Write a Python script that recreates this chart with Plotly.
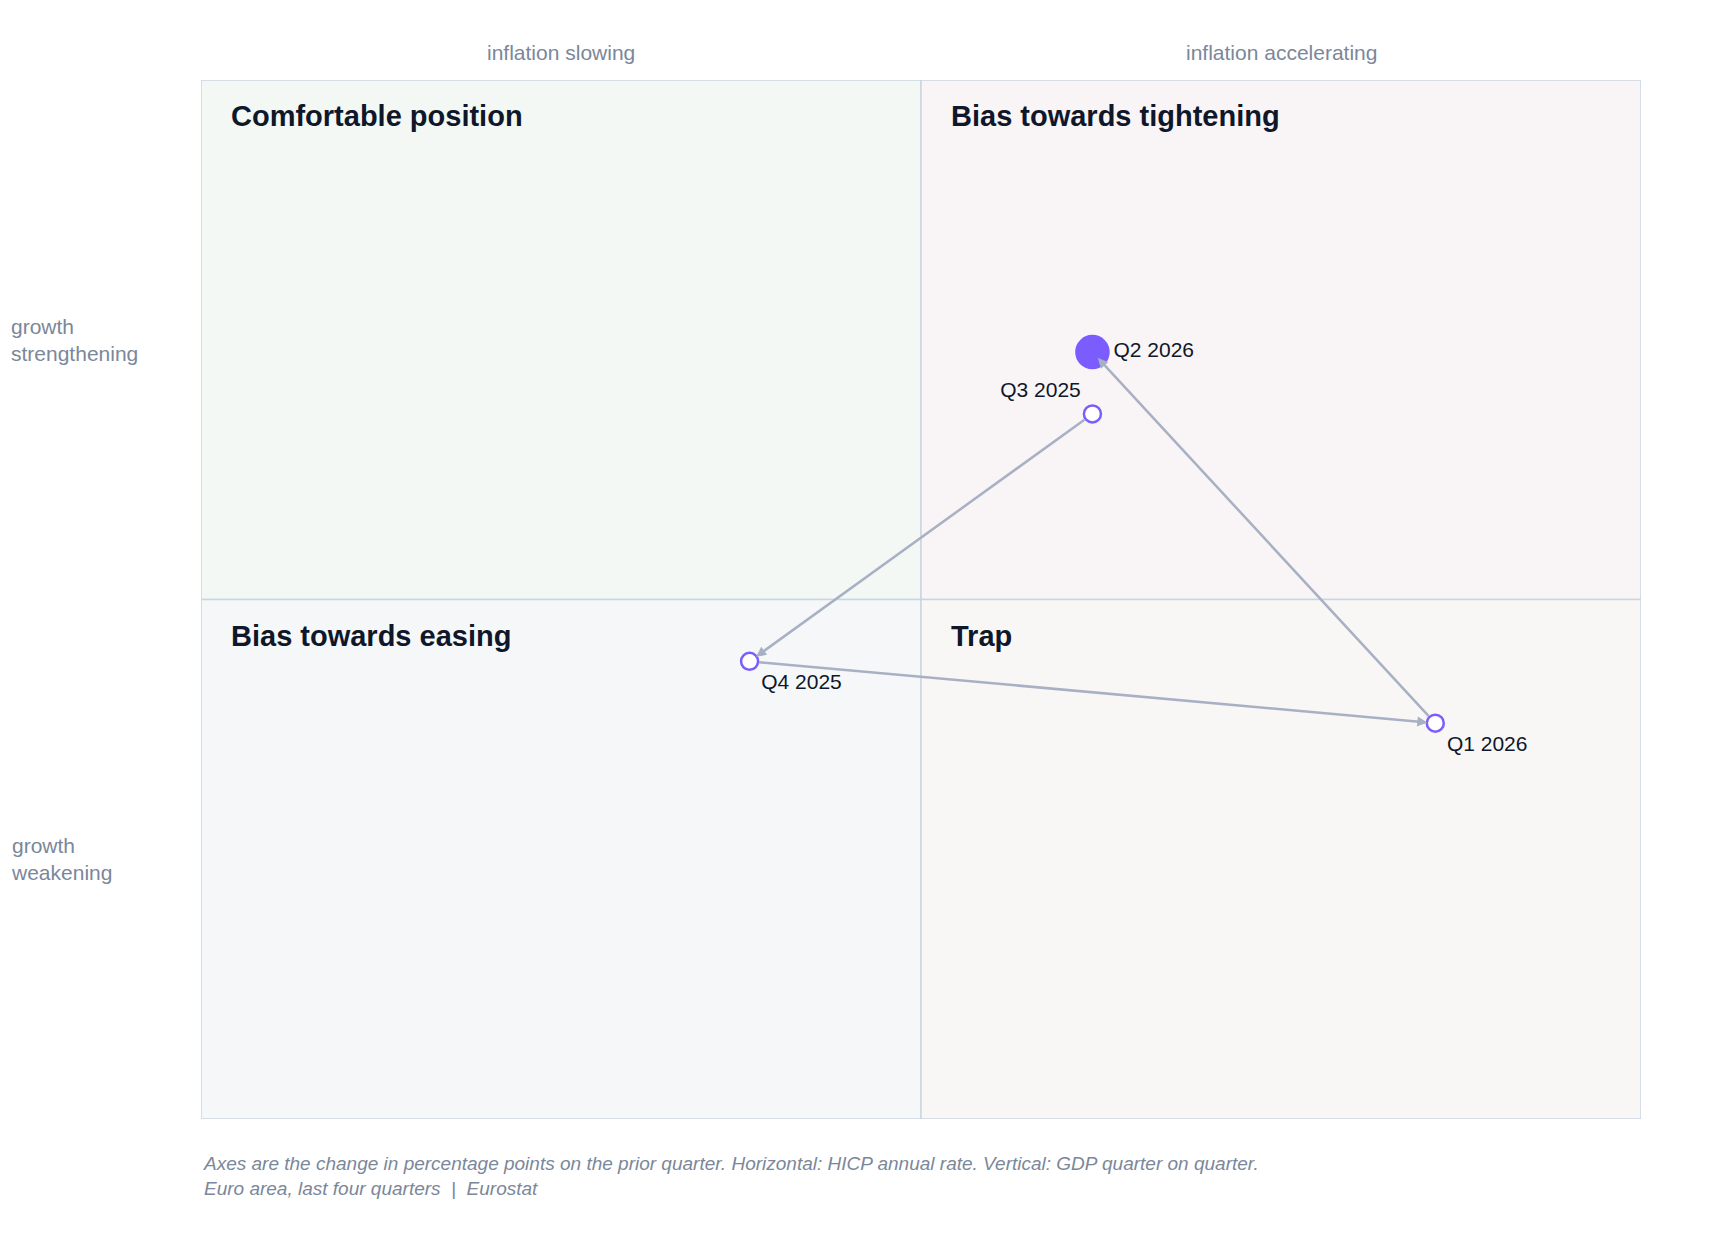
import plotly.graph_objects as go

quarters = ["Q3 2025", "Q4 2025", "Q1 2026", "Q2 2026"]
inflation_change = [0.1, -0.1, 0.3, 0.1]
growth_change = [0.15, -0.05, -0.1, 0.2]
label_pos = ["top left", "bottom right", "bottom right", "middle right"]

quadrants = [
    ("Comfortable position", -0.42, 0, 0, 0.42, "#f3f8f4"),
    ("Bias towards tightening", 0, 0, 0.42, 0.42, "#f9f4f6"),
    ("Bias towards easing", -0.42, -0.42, 0, 0, "#f6f7f9"),
    ("Trap", 0, -0.42, 0.42, 0, "#f8f7f6"),
]

R = 0.42
fig = go.Figure()

for name, x0, y0, x1, y1, col in quadrants:
    fig.add_shape(type="rect", x0=x0, y0=y0, x1=x1, y1=y1, fillcolor=col,
                  line=dict(color="#cbd5e1", width=1.5), layer="below")
    fig.add_annotation(x=x0, y=y1, text="<b>" + name + "</b>", showarrow=False,
                       xanchor="left", yanchor="top", xshift=28, yshift=-18,
                       font=dict(size=29, color="#0f172a"))

for i in range(len(quarters) - 1):
    fig.add_annotation(x=inflation_change[i + 1], y=growth_change[i + 1],
                       ax=inflation_change[i], ay=growth_change[i],
                       xref="x", yref="y", axref="x", ayref="y",
                       showarrow=True, arrowhead=2, arrowsize=0.8, arrowwidth=2.5,
                       arrowcolor="#a8b0c4", standoff=8, startstandoff=8, text="")

sizes = [17, 17, 17, 32]
fills = ["white", "white", "white", "#7b5cff"]
fig.add_trace(go.Scatter(
    x=inflation_change, y=growth_change, mode="markers+text",
    text=quarters, textposition=label_pos,
    textfont=dict(size=21, color="#0f172a"),
    marker=dict(size=sizes, color=fills, opacity=1, line=dict(color="#7b5cff", width=2.5)),
    hoverinfo="text", showlegend=False,
))

top_labels = [("inflation slowing", -R / 2), ("inflation accelerating", R / 2)]
for t, xv in top_labels:
    fig.add_annotation(x=xv, y=1, yref="paper", text=t, showarrow=False,
                       yanchor="bottom", yshift=14, font=dict(size=21, color="#7b879a"))
side_labels = [("growth<br>strengthening", R / 2), ("growth<br>weakening", -R / 2)]
for t, yv in side_labels:
    fig.add_annotation(x=0, xref="paper", xshift=-192, y=yv, text=t, showarrow=False,
                       xanchor="left", align="left", font=dict(size=21, color="#7b879a"))

fig.add_annotation(x=0, y=0, xref="paper", yref="paper", yshift=-32, yanchor="top",
                   xanchor="left", align="left", showarrow=False,
                   text="<i>Axes are the change in percentage points on the prior quarter. "
                        "Horizontal: HICP annual rate. Vertical: GDP quarter on quarter.<br>"
                        "Euro area, last four quarters  |  Eurostat</i>",
                   font=dict(size=19, color="#7b879a"))

fig.update_xaxes(range=[-R, R], visible=False, fixedrange=True)
fig.update_yaxes(range=[-R, R], visible=False, fixedrange=True)
fig.update_layout(
    width=1720, height=1238,
    margin=dict(l=193, r=87, t=72, b=127),
    plot_bgcolor="white", paper_bgcolor="white",
    font=dict(family="Liberation Sans, Arial, sans-serif"),
)

fig.write_html("out.html")
